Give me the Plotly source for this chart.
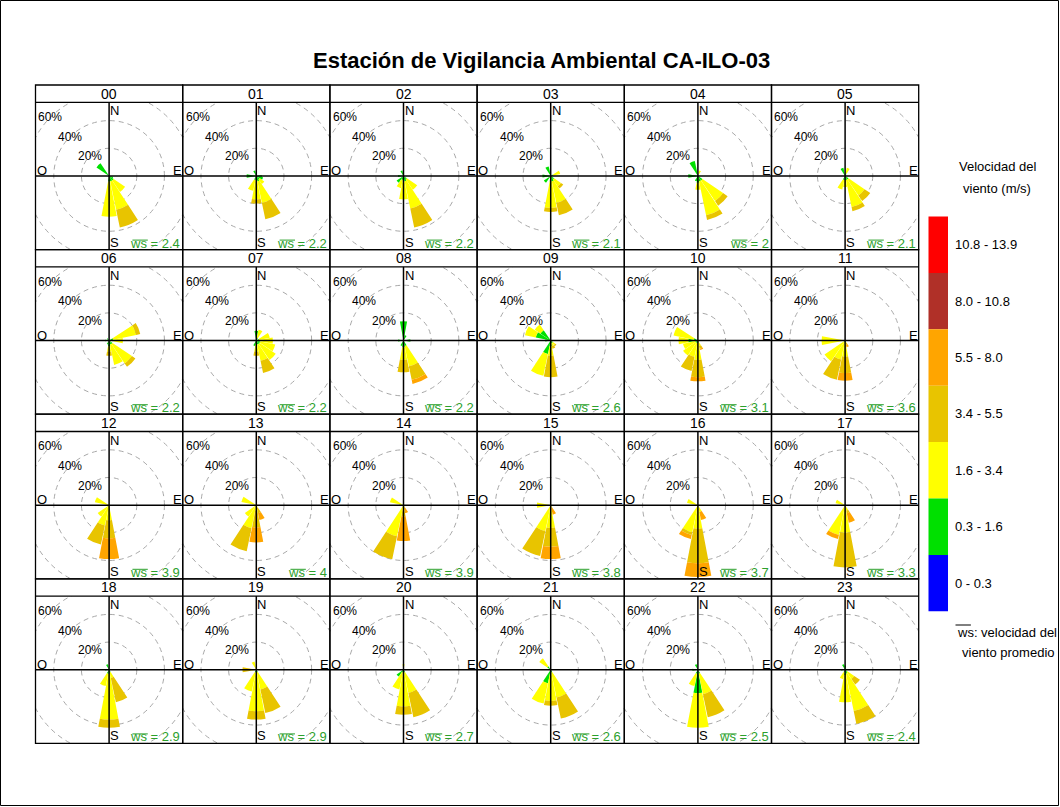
import plotly.graph_objects as go

W, H = 1060, 807
FONT = "Liberation Sans, Arial, sans-serif"

TITLE = "Estación de Vigilancia Ambiental CA-ILO-03"
HOURS = [f"{h:02d}" for h in range(24)]
DIRS = ["N", "NNE", "NE", "ENE", "E", "ESE", "SE", "SSE",
        "S", "SSW", "SW", "WSW", "W", "WNW", "NW", "NNW"]
DIR_ANGLES = [i * 22.5 for i in range(16)]
WS_MEAN = [2.4, 2.2, 2.2, 2.1, 2, 2.1, 2.2, 2.2, 2.2, 2.6, 3.1, 3.6,
           3.9, 4, 3.9, 3.8, 3.7, 3.3, 2.9, 2.9, 2.7, 2.6, 2.5, 2.4]
SPEED_BINS = ["0 - 0.3", "0.3 - 1.6", "1.6 - 3.4", "3.4 - 5.5",
              "5.5 - 8.0", "8.0 - 10.8", "10.8 - 13.9"]
BIN_COLORS = ["#0000FF", "#00E000", "#FFFF00", "#E8C400",
              "#FFA500", "#B03028", "#FF0000"]
RING_PCTS = [20, 40, 60]
LEGEND_TITLE = ["Velocidad del", "viento (m/s)"]
LEGEND_NOTE = ["ws: velocidad del", "viento promedio"]

# frequency (%) by direction for each hour, one table per speed bin (missing = 0)
FREQ_03_16 = [
    {"NW": 11, "SSE": 4, "S": 4, "SE": 4, "ESE": 3},
    {"W": 7, "NNW": 4, "E": 4, "ESE": 5, "S": 3, "SSE": 4, "SE": 3, "SSW": 3},
    {"NNW": 4, "W": 4, "SW": 6, "S": 4, "SSE": 4, "SE": 3, "SSW": 3},
    {"NNW": 7, "W": 6, "SW": 6, "ENE": 2, "S": 4, "SSE": 4, "SE": 3},
    {"NNW": 11, "W": 7, "NNE": 1, "SSE": 4, "SE": 4, "S": 5, "SSW": 4},
    {"NNW": 6, "NNE": 2, "SSW": 3, "SSE": 3, "SE": 3, "S": 3},
    {"ENE": 3, "E": 3, "SE": 3, "SSE": 3, "S": 4, "W": 3, "NW": 2, "SSW": 3},
    {"N": 7, "NNE": 2, "ENE": 2, "E": 2, "ESE": 3, "SE": 3, "SSE": 3, "S": 3, "SSW": 4},
    {"N": 14, "NNE": 4, "W": 4, "E": 5, "SSE": 4, "S": 5, "SSW": 4},
    {"WNW": 11, "NW": 9, "W": 4, "SSW": 10, "S": 4, "SSE": 2, "SE": 2},
    {"WNW": 3, "W": 7, "WSW": 2, "SW": 2, "SSW": 2, "S": 2, "SSE": 1},
    {"W": 1, "SW": 1, "SSW": 1, "S": 1, "SSE": 1},
    {},
    {},
    {"W": 3, "SSW": 1},
    {},
    {},
    {},
    {"NNW": 4, "W": 3, "SSW": 3, "S": 3, "SSE": 2},
    {"SSW": 2, "S": 2, "SSE": 2},
    {"N": 2, "SW": 6, "SSW": 2, "S": 2, "SSE": 2},
    {"NW": 3, "SSW": 10, "S": 3, "SSE": 2},
    {"NNW": 4, "W": 4, "SSW": 3, "S": 17, "SSE": 3},
    {"NNW": 4, "N": 3, "W": 3, "SSW": 2, "S": 4, "SE": 2, "SSE": 3},
]
FREQ_16_34 = [
    {"SSE": 21, "S": 25.5, "SE": 10},
    {"S": 14, "SSE": 16, "SE": 4, "SSW": 8},
    {"S": 13, "SSE": 20, "SE": 9, "SSW": 6},
    {"ENE": 5, "S": 19, "SSE": 16, "SE": 6},
    {"NNE": 3, "SSE": 25, "SE": 18, "S": 5},
    {"NNE": 4, "SSW": 7, "SSE": 20, "SE": 14, "S": 5},
    {"ENE": 17, "E": 7, "SE": 17, "SSE": 15, "S": 4},
    {"NNE": 6, "ENE": 8, "E": 10, "ESE": 11, "SE": 14, "SSE": 12, "S": 5},
    {"SSE": 15, "S": 9},
    {"WNW": 8, "NW": 5, "SSW": 16, "S": 7, "SSE": 2, "SE": 2},
    {"WNW": 15, "W": 7, "WSW": 9, "SW": 11, "SSW": 10, "S": 12, "SSE": 3},
    {"W": 16, "SW": 17, "SSW": 13, "S": 10.5, "SSE": 1},
    {"WNW": 10.5, "SW": 10, "SSW": 15, "S": 11},
    {"WNW": 11, "SW": 10, "SSW": 17, "S": 4, "SSE": 2},
    {"WNW": 10, "SSW": 22, "S": 4, "SSE": 2},
    {"W": 10, "SSW": 19, "S": 16.5, "SSE": 2},
    {"WNW": 8, "SSW": 20, "S": 17, "SSE": 5},
    {"WNW": 7, "SSW": 22, "S": 20, "SSE": 4},
    {"SSW": 9, "S": 33, "SSE": 4},
    {"W": 4, "NNW": 6, "SSW": 14, "S": 28, "SSE": 12.5},
    {"N": 2, "SSW": 12.5, "S": 24.5, "SSE": 15},
    {"NW": 7, "SSW": 15, "S": 19.5, "SSE": 18.5},
    {"SSW": 9, "S": 25, "SSE": 15},
    {"SSW": 5, "S": 19.5, "SE": 6, "SSE": 27.5},
]
FREQ_34_55 = [
    {"SSE": 13},
    {"S": 3, "SSE": 12},
    {"SSE": 14},
    {"S": 3, "SSE": 9, "SE": 2},
    {"SSE": 3.5, "SE": 4},
    {"SSE": 3, "SE": 5},
    {"ENE": 3, "SE": 3, "S": 3},
    {"SSE": 9, "S": 3},
    {"SSE": 10, "S": 9},
    {"S": 15.5, "SSE": 2, "SE": 1},
    {"SSW": 10.5, "S": 12.5, "SSE": 2},
    {"SSW": 15, "S": 12, "SSE": 1},
    {"SSW": 14, "S": 13},
    {"SSW": 17, "S": 12, "SSE": 4},
    {"SSW": 17, "S": 4},
    {"SSW": 18.5, "S": 13.5},
    {"SSW": 2, "S": 25},
    {"S": 25, "SSE": 2},
    {"S": 6, "SSE": 18},
    {"W": 6, "S": 6, "SSE": 17.5},
    {"S": 6, "SSE": 18},
    {"S": 3.5, "SSE": 15.5},
    {"SSE": 17},
    {"SE": 5, "SSE": 9.5},
]
FREQ_55_80 = [
    {}, {}, {}, {}, {}, {}, {}, {},
    {"SSE": 3},
    {},
    {"S": 3, "SSE": 1},
    {"S": 5.5, "SSE": 2},
    {"S": 15},
    {"S": 11, "SSE": 5},
    {"S": 18, "SSE": 4},
    {"S": 9, "SSE": 5},
    {"SSW": 3, "S": 10, "SSE": 6},
    {"SSW": 3, "SSE": 7},
    {}, {}, {}, {}, {}, {},
]
BIN_TABLES = [(FREQ_03_16, BIN_COLORS[1]), (FREQ_16_34, BIN_COLORS[2]),
              (FREQ_34_55, BIN_COLORS[3]), (FREQ_55_80, BIN_COLORS[4])]

# ---------------- geometry (pixels) ----------------
GL, GW = 35.5, 147.2            # grid left, panel width
GT, RH, HH = 85.0, 164.6, 17.3  # grid top, row height, header height
PX_PER_PCT = 83.0 / 60.0
WS_SIZE = 13
# Arial advance widths (per 1000 em) used to place the bar over "ws"
ADV = {"w": 722, "s": 500, " ": 278, "=": 584, ".": 278}


def text_width(s, size):
    return sum(ADV.get(c, 556) for c in s) * size / 1000.0


def px(x):
    return x / W


def py(y):
    return 1 - y / H


fig = go.Figure()
shapes, annotations = [], []
layout_extra = {}

for i, hour in enumerate(HOURS):
    col, row = i % 6, i // 6
    x0 = GL + col * GW
    x1 = x0 + GW
    ytop = GT + row * RH
    yh = ytop + HH
    ybot = ytop + RH
    cx = (x0 + x1) / 2
    cy = (yh + ybot) / 2
    sfx = "" if i == 0 else str(i + 1)

    # polar subplot for the wedges (radius of 60% = 83 px)
    R = 60 * PX_PER_PCT
    layout_extra["polar" + sfx] = dict(
        domain=dict(x=[px(cx - R), px(cx + R)], y=[py(cy + R), py(cy - R)]),
        bgcolor="rgba(0,0,0,0)", barmode="stack", bargap=0, hole=0,
        angularaxis=dict(direction="clockwise", rotation=90, visible=False),
        radialaxis=dict(range=[0, 60], visible=False),
    )
    for table, color in BIN_TABLES:
        vals = [table[i].get(d, 0) for d in DIRS]
        fig.add_trace(go.Barpolar(
            r=vals, theta=DIR_ANGLES, width=21.5, subplot="polar" + sfx,
            marker=dict(color=color, line=dict(width=0)),
            showlegend=False, hoverinfo="skip"))

    # cartesian overlay (same scale) for the dashed rings, clipped to panel
    hx = (GW / 2) / PX_PER_PCT
    hy = ((ybot - yh) / 2) / PX_PER_PCT
    layout_extra["xaxis" + sfx] = dict(domain=[px(x0), px(x1)], range=[-hx, hx],
                                       visible=False, fixedrange=True,
                                       anchor="y" + sfx)
    layout_extra["yaxis" + sfx] = dict(domain=[py(ybot), py(yh)], range=[-hy, hy],
                                       visible=False, fixedrange=True,
                                       anchor="x" + sfx)
    fig.add_trace(go.Scatter(x=[0], y=[0], xaxis="x" + sfx, yaxis="y" + sfx,
                             mode="markers", marker=dict(size=1, color="rgba(0,0,0,0)"),
                             showlegend=False, hoverinfo="skip"))
    for r in RING_PCTS:
        shapes.append(dict(type="circle", xref="x" + sfx, yref="y" + sfx,
                           x0=-r, x1=r, y0=-r, y1=r, layer="below",
                           line=dict(color="#A8A8A8", width=1, dash="5px,4px")))
        off = r * PX_PER_PCT * 0.7071
        annotations.append(dict(x=px(cx - off), y=py(cy - off), xref="paper", yref="paper",
                                text=f"{r}%", showarrow=False, xanchor="center",
                                yanchor="middle", font=dict(size=12, color="black")))

    # cross lines
    shapes.append(dict(type="line", xref="paper", yref="paper", x0=px(cx), x1=px(cx),
                       y0=py(yh), y1=py(ybot), layer="above",
                       line=dict(color="black", width=1.5)))
    shapes.append(dict(type="line", xref="paper", yref="paper", x0=px(x0), x1=px(x1),
                       y0=py(cy), y1=py(cy), layer="above",
                       line=dict(color="black", width=1.5)))
    # panel + header frames
    shapes.append(dict(type="rect", xref="paper", yref="paper", x0=px(x0), x1=px(x1),
                       y0=py(ybot), y1=py(ytop), layer="above",
                       line=dict(color="black", width=1.3)))
    shapes.append(dict(type="line", xref="paper", yref="paper", x0=px(x0), x1=px(x1),
                       y0=py(yh), y1=py(yh), layer="above",
                       line=dict(color="black", width=1.3)))

    # texts
    annotations.append(dict(x=px(cx), y=py((ytop + yh) / 2), xref="paper", yref="paper",
                            text=hour, showarrow=False, xanchor="center", yanchor="middle",
                            font=dict(size=14, color="black")))
    annotations.append(dict(x=px(cx), y=py(yh), xref="paper", yref="paper", text="N",
                            showarrow=False, xanchor="left", yanchor="top", borderpad=0,
                            font=dict(size=13, color="black")))
    annotations.append(dict(x=px(cx), y=py(ybot + 1), xref="paper", yref="paper", text="S",
                            showarrow=False, xanchor="left", yanchor="bottom", borderpad=0,
                            font=dict(size=13, color="black")))
    annotations.append(dict(x=px(x0), y=py(cy + 3), xref="paper", yref="paper", text="O",
                            showarrow=False, xanchor="left", yanchor="bottom", borderpad=0,
                            font=dict(size=13, color="black")))
    annotations.append(dict(x=px(x1), y=py(cy + 3), xref="paper", yref="paper", text="E",
                            showarrow=False, xanchor="right", yanchor="bottom", borderpad=0,
                            font=dict(size=13, color="black")))
    ws_text = f"ws = {WS_MEAN[i]:g}"
    xr = x1 - 2
    annotations.append(dict(x=px(xr), y=py(ybot + 2), xref="paper", yref="paper",
                            text=ws_text, showarrow=False, xanchor="right", yanchor="bottom",
                            borderpad=0, font=dict(size=WS_SIZE, color="#2CA02C")))
    xs = xr - text_width(ws_text, WS_SIZE)
    shapes.append(dict(type="line", xref="paper", yref="paper",
                       x0=px(xs + 0.5), x1=px(xs + text_width("ws", WS_SIZE)),
                       y0=py(ybot - 9.5), y1=py(ybot - 9.5), layer="above",
                       line=dict(color="#2CA02C", width=1)))

# legend boxes
LB_X0, LB_X1, LB_TOP, LB_H = 928.5, 948, 216.5, 56.4
for k in range(len(SPEED_BINS)):
    j = len(SPEED_BINS) - 1 - k
    yt = LB_TOP + k * LB_H
    shapes.append(dict(type="rect", xref="paper", yref="paper", x0=px(LB_X0), x1=px(LB_X1),
                       y0=py(yt + LB_H), y1=py(yt), line=dict(width=0),
                       fillcolor=BIN_COLORS[j], layer="above"))
    annotations.append(dict(x=px(953), y=py(yt + LB_H / 2), xref="paper", yref="paper",
                            text=SPEED_BINS[j], showarrow=False, xanchor="left",
                            yanchor="middle", font=dict(size=13, color="black")))
for line, yy in zip(LEGEND_TITLE, [167, 189]):
    annotations.append(dict(x=px(997), y=py(yy), xref="paper", yref="paper",
                            text=line, showarrow=False, xanchor="center",
                            yanchor="middle", font=dict(size=13, color="black")))
annotations.append(dict(x=px(955), y=py(632.5), xref="paper", yref="paper",
                        text=LEGEND_NOTE[0], showarrow=False, xanchor="left",
                        yanchor="middle", font=dict(size=13, color="black")))
shapes.append(dict(type="line", xref="paper", yref="paper", x0=px(955.5),
                   x1=px(955 + text_width("ws", 13)), y0=py(625), y1=py(625),
                   line=dict(color="black", width=1), layer="above"))
annotations.append(dict(x=px(1008), y=py(652.5), xref="paper", yref="paper",
                        text=LEGEND_NOTE[1], showarrow=False, xanchor="center",
                        yanchor="middle", font=dict(size=13, color="black")))
# title
annotations.append(dict(x=px(541.5), y=py(60), xref="paper", yref="paper",
                        text="<b>" + TITLE + "</b>", showarrow=False, xanchor="center",
                        yanchor="middle", font=dict(size=22, color="black")))
# outer frame
shapes.append(dict(type="rect", xref="paper", yref="paper", x0=px(0.5), x1=px(1058.5),
                   y0=py(805.5), y1=py(0.5), line=dict(color="black", width=1), layer="above"))

fig.update_layout(
    width=W, height=H, margin=dict(l=0, r=0, t=0, b=0),
    paper_bgcolor="white", plot_bgcolor="rgba(0,0,0,0)",
    font=dict(family=FONT, color="black"),
    showlegend=False, shapes=shapes, annotations=annotations,
    **layout_extra,
)
fig.write_html("out.html", config={"displayModeBar": False},
               post_script="document.body.style.margin='0';")
